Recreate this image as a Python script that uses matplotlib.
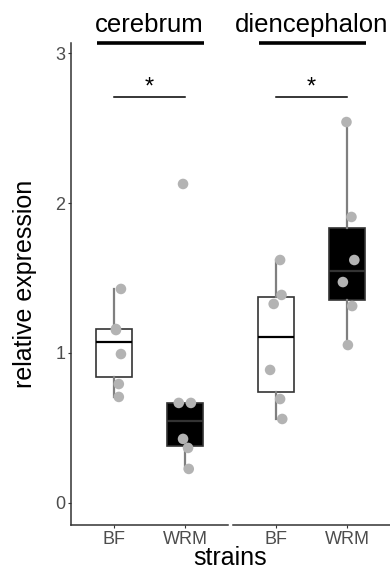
import matplotlib
matplotlib.use("Agg")
import matplotlib.pyplot as plt

plt.rcParams['font.family'] = ['Liberation Sans', 'DejaVu Sans']

regions = ["cerebrum", "diencephalon"]
strains = ["BF", "WRM"]

# relative expression per region / strain
cerebrum_bf = [1.427, 1.160, 1.153, 0.993, 0.793, 0.707]
cerebrum_wrm = [2.127, 0.667, 0.667, 0.427, 0.367, 0.227]
dien_bf = [1.620, 1.387, 1.327, 0.887, 0.693, 0.560]
dien_wrm = [2.540, 1.907, 1.620, 1.473, 1.313, 1.053]

# horizontal jitter of each point (category units)
jit_cerebrum_bf = [0.10, 0.03, 0.03, 0.10, 0.07, 0.07]
jit_cerebrum_wrm = [-0.03, -0.09, 0.08, -0.03, 0.04, 0.05]
jit_dien_bf = [0.06, 0.08, -0.03, -0.08, 0.06, 0.09]
jit_dien_wrm = [-0.01, 0.06, 0.10, -0.06, 0.07, 0.01]

data = {
    "cerebrum": [(cerebrum_bf, jit_cerebrum_bf), (cerebrum_wrm, jit_cerebrum_wrm)],
    "diencephalon": [(dien_bf, jit_dien_bf), (dien_wrm, jit_dien_wrm)],
}
box_fill = ["white", "black"]
sig_y = 2.71
sig_label = "*"

W, H = 390, 571
fig = plt.figure(figsize=(W / 100, H / 100), dpi=100)
fig.patch.set_facecolor("white")

ax_top, ax_bot = 43, 525
panel_x = [(71, 228), (233, 390)]
axes = []
for i, (x0, x1) in enumerate(panel_x):
    ax = fig.add_axes([x0 / W, 1 - ax_bot / H, (x1 - x0) / W, (ax_bot - ax_top) / H])
    axes.append(ax)

for i, (ax, region) in enumerate(zip(axes, regions)):
    groups = data[region]
    for j, (vals, jit) in enumerate(groups):
        pos = j + 1
        med_col = "#333333" if box_fill[j] == "black" else "black"
        ax.boxplot([vals], positions=[pos], widths=0.5, whis=1.5,
                   showfliers=False, patch_artist=True,
                   boxprops=dict(facecolor=box_fill[j], edgecolor="#333333", linewidth=1.2),
                   medianprops=dict(color=med_col, linewidth=1.6),
                   whiskerprops=dict(color="#7f7f7f", linewidth=1.6),
                   capprops=dict(linewidth=0),
                   zorder=2)
        ax.scatter([pos + d for d in jit], vals, s=58, color="#b3b3b3",
                   edgecolors="none", zorder=3)
    # significance bracket
    ax.plot([1, 2], [sig_y, sig_y], color="black", linewidth=1.1, zorder=4)
    ax.text(1.5, sig_y - 0.01, sig_label, ha="center", va="bottom",
            fontsize=17, color="black")
    # strip label with underline
    ax.text(0.5, 1 + 11 / 482, region, transform=ax.transAxes, ha="center",
            va="baseline", fontsize=18.5, color="black")
    ax.plot([0.166, 0.847], [1.0, 1.0], transform=ax.transAxes,
            color="black", linewidth=2.6, clip_on=False, solid_capstyle="butt")

    ax.set_xlim(0.4, 2.6)
    ax.set_ylim(-0.147, 3.067)
    ax.set_xticks([1, 2])
    ax.set_xticklabels(strains, fontsize=13, color="#4d4d4d")
    ax.set_yticks([0, 1, 2, 3])
    ax.set_yticklabels(["0", "1", "2", "3"], fontsize=13, color="#4d4d4d")
    ax.tick_params(length=2.5, width=0.8, color="#333333", pad=1.5)
    for side in ["top", "right"]:
        ax.spines[side].set_visible(False)
    ax.spines["bottom"].set_color("#333333")
    ax.spines["left"].set_color("#333333")
    ax.spines["bottom"].set_linewidth(1.1)
    ax.spines["left"].set_linewidth(1.1)
    if i == 1:
        ax.spines["left"].set_visible(False)
        ax.tick_params(axis="y", left=False, labelleft=False)

fig.text(25 / W, 1 - 284 / H, "relative expression", rotation=90,
         ha="center", va="center", fontsize=18)
fig.text(230 / W, 1 - 565 / H, "strains", ha="center", va="baseline", fontsize=18)

fig.savefig("out.png", dpi=100)
